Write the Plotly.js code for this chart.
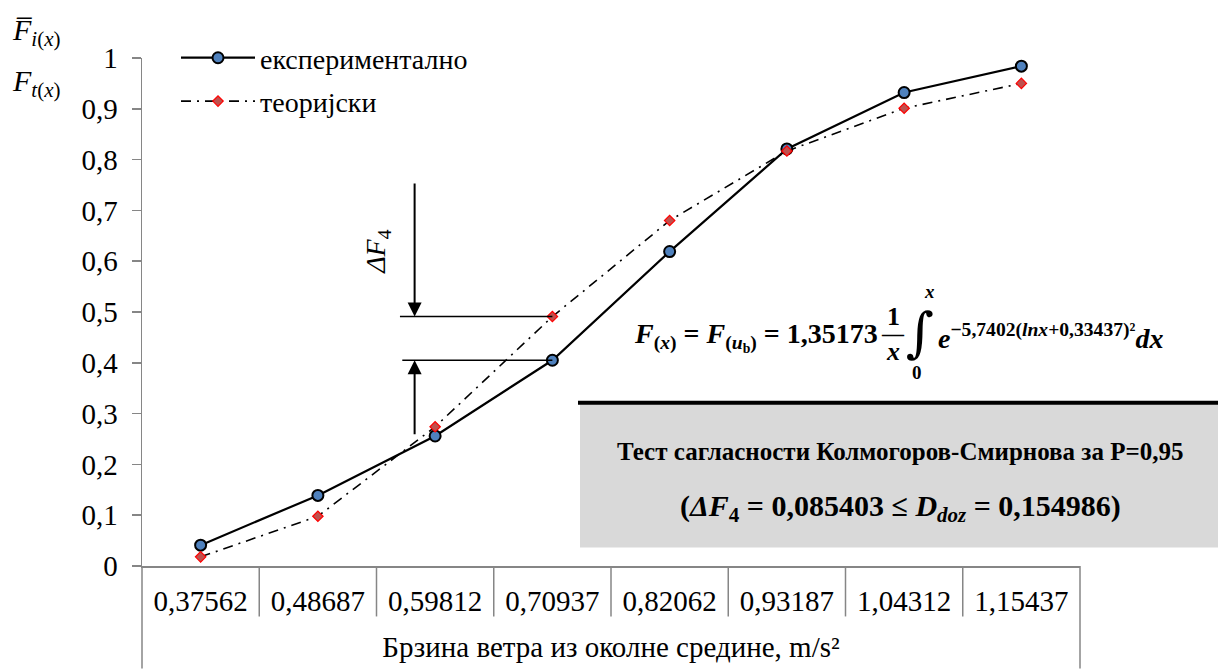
<!DOCTYPE html>
<html>
<head>
<meta charset="utf-8">
<script src="https://cdn.plot.ly/plotly-3.0.1.min.js"></script>
<style>html,body{margin:0;padding:0;background:#fff;}</style>
</head>
<body>
<div id="chart" style="width:1218px;height:669px;"></div>
<script>
// ---- data ----
const categories = ["0,37562","0,48687","0,59812","0,70937","0,82062","0,93187","1,04312","1,15437"];
const experimental = [0.041, 0.139, 0.256, 0.405, 0.619, 0.821, 0.932, 0.984];
const theoretical  = [0.018, 0.098, 0.274, 0.491, 0.680, 0.817, 0.901, 0.950];
const seriesNames = ["експериментално", "теоријски"];
const xTitle = "Брзина ветра из околне средине, m/s²";
const testTitle = "Тест сагласности Колмогоров-Смирнова за P=0,95";
const deltaIndex = 3;

// ---- layout helpers (pixel -> paper) ----
const L = 142, T = 58, W = 938, H = 508.5;
const px = X => (X - L) / W;
const py = Y => (T + H - Y) / H;

const serif = "Liberation Serif, Times New Roman, serif";
const fontBase = {family: serif, size: 29, color: "#000"};
const axisGray = "#868686";

const traces = [
  {
    x: categories, y: experimental, name: seriesNames[0], type: "scatter", mode: "lines+markers",
    line: {color: "#000", width: 2.2},
    marker: {symbol: "circle", size: 11, color: "#4F81BD", line: {color: "#000", width: 2}},
    legendgroup: "a"
  },
  {
    x: categories, y: theoretical, name: seriesNames[1], type: "scatter", mode: "lines+markers",
    line: {color: "#000", width: 1.6, dash: "10px,6px,2px,6px"},
    marker: {symbol: "diamond", size: 8, color: "#c0504d", line: {color: "#ff0000", width: 1.2}},
    legendgroup: "b"
  }
];

const shapes = [];
// category separators of the axis table
for (let i = 0; i < categories.length - 1; i++) {
  shapes.push({type: "line", xref: "x", yref: "paper", x0: i + 0.5, x1: i + 0.5,
    y0: 0, y1: py(617), line: {color: axisGray, width: 1.5}});
}
// outer lines of the axis table
shapes.push({type: "line", xref: "paper", yref: "paper", x0: 0, x1: 0, y0: 0, y1: py(669), line: {color: axisGray, width: 1.5}});
shapes.push({type: "line", xref: "paper", yref: "paper", x0: 1, x1: 1, y0: 0, y1: py(669), line: {color: axisGray, width: 1.5}});
// delta F4 guide lines
shapes.push({type: "line", xref: "x", yref: "y", x0: 1.70, x1: deltaIndex, y0: theoretical[deltaIndex], y1: theoretical[deltaIndex], line: {color: "#000", width: 1.5}});
shapes.push({type: "line", xref: "x", yref: "y", x0: 1.72, x1: deltaIndex, y0: experimental[deltaIndex], y1: experimental[deltaIndex], line: {color: "#000", width: 1.5}});
// grey test box
shapes.push({type: "rect", xref: "paper", yref: "paper", x0: px(580), x1: px(1218), y0: py(548), y1: py(403),
  fillcolor: "#d9d9d9", line: {width: 0}, layer: "below"});
shapes.push({type: "line", xref: "paper", yref: "paper", x0: px(578), x1: px(1218), y0: py(403), y1: py(403),
  line: {color: "#000", width: 4}});

const fBold = (s) => ({family: serif, size: s, color: "#000"});
const annotations = [
  // y-axis title (two lines)
  {xref: "paper", yref: "paper", x: px(10), y: py(32), xanchor: "left", yanchor: "middle", showarrow: false,
   text: "<i>F̅</i><sub><i>i</i>(<i>x</i>)</sub>", font: {family: serif, size: 30, color: "#000"}},
  {xref: "paper", yref: "paper", x: px(10), y: py(83), xanchor: "left", yanchor: "middle", showarrow: false,
   text: "<i>F</i><sub><i>t</i>(<i>x</i>)</sub>", font: {family: serif, size: 30, color: "#000"}},
  // delta label
  {xref: "paper", yref: "paper", x: px(378), y: py(252), xanchor: "center", yanchor: "middle", showarrow: false,
   textangle: -90, text: "<i>ΔF</i><sub>4</sub>", font: {family: serif, size: 28, color: "#000"}},
  // arrows
  {xref: "x", yref: "y", axref: "x", ayref: "y", x: 1.825, y: theoretical[deltaIndex], ax: 1.825, ay: py(182),
   showarrow: true, arrowhead: 2, arrowsize: 1.4, arrowwidth: 2, arrowcolor: "#000", text: ""},
  {xref: "x", yref: "y", axref: "x", ayref: "y", x: 1.825, y: experimental[deltaIndex], ax: 1.825, ay: py(436),
   showarrow: true, arrowhead: 2, arrowsize: 1.4, arrowwidth: 2, arrowcolor: "#000", text: ""},
  // formula
  {xref: "paper", yref: "paper", x: px(632), y: py(337), xanchor: "left", yanchor: "middle", showarrow: false,
   text: "<b><i>F</i><sub>(<i>x</i>)</sub> = <i>F</i><sub>(<i>u</i><sub>b</sub>)</sub> = 1,35173</b>", font: fBold(28)},
  {xref: "paper", yref: "paper", x: px(893), y: py(317), xanchor: "center", yanchor: "middle", showarrow: false,
   text: "<b>1</b>", font: fBold(26)},
  {xref: "paper", yref: "paper", x: px(893), y: py(334), xanchor: "center", yanchor: "middle", showarrow: false,
   text: "<b>—</b>", font: fBold(22)},
  {xref: "paper", yref: "paper", x: px(893), y: py(352), xanchor: "center", yanchor: "middle", showarrow: false,
   text: "<b><i>x</i></b>", font: fBold(26)},
  {xref: "paper", yref: "paper", x: px(920), y: py(333), xanchor: "center", yanchor: "middle", showarrow: false,
   text: "∫", font: {family: "DejaVu Serif, serif", size: 54, color: "#000"}},
  {xref: "paper", yref: "paper", x: px(929), y: py(292), xanchor: "center", yanchor: "middle", showarrow: false,
   text: "<b><i>x</i></b>", font: fBold(19)},
  {xref: "paper", yref: "paper", x: px(917), y: py(373), xanchor: "center", yanchor: "middle", showarrow: false,
   text: "<b>0</b>", font: fBold(19)},
  {xref: "paper", yref: "paper", x: px(936), y: py(337), xanchor: "left", yanchor: "middle", showarrow: false,
   text: "<b><i>e</i><sup>−5,7402(<i>lnx</i>+0,33437)²</sup><i>dx</i></b>", font: fBold(28)},
  // box texts
  {xref: "paper", yref: "paper", x: px(900), y: py(452), xanchor: "center", yanchor: "middle", showarrow: false,
   text: "<b>" + testTitle + "</b>", font: fBold(25)},
  {xref: "paper", yref: "paper", x: px(900), y: py(508), xanchor: "center", yanchor: "middle", showarrow: false,
   text: "<b>(<i>ΔF</i><sub>4</sub> = 0,085403 ≤ <i>D</i><sub><i>doz</i></sub> = 0,154986)</b>", font: fBold(30)}
];

const layout = {
  width: 1218, height: 669,
  margin: {l: L, r: 1218 - L - W, t: T, b: 669 - T - H, pad: 0},
  paper_bgcolor: "#fff", plot_bgcolor: "rgba(0,0,0,0)",
  separators: ", ",
  font: fontBase,
  showlegend: true,
  legend: {x: px(176), y: py(33), xanchor: "left", yanchor: "top", bgcolor: "rgba(0,0,0,0)",
    font: {family: serif, size: 28, color: "#000"}, tracegroupgap: 4, itemwidth: 74},
  xaxis: {
    type: "category", range: [-0.5, categories.length - 0.5], showline: true, linecolor: axisGray, linewidth: 1.5,
    ticks: "", showgrid: false, zeroline: false, tickfont: fontBase, ticklabelstandoff: 9, automargin: false,
    title: {text: xTitle, font: fontBase, standoff: 20}
  },
  yaxis: {
    range: [0, 1], dtick: 0.1, tick0: 0, showline: true, linecolor: axisGray, linewidth: 1.5,
    ticks: "outside", ticklen: 9, tickwidth: 1.5, tickcolor: axisGray, showgrid: false, zeroline: false,
    tickfont: fontBase, ticklabelstandoff: 8, automargin: false
  },
  shapes: shapes,
  annotations: annotations
};

Plotly.newPlot("chart", traces, layout, {displayModeBar: false, staticPlot: true});
</script>
</body>
</html>
